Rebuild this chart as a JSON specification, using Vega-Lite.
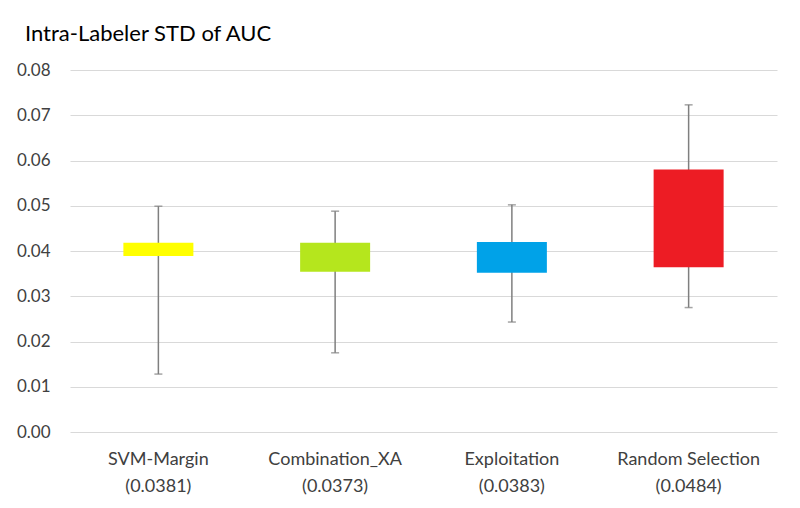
{
  "$schema": "https://vega.github.io/schema/vega-lite/v6.json",
  "width": 707,
  "height": 362,
  "autosize": "none",
  "padding": {"left": 70, "top": 70, "right": 23, "bottom": 76},
  "background": "white",
  "title": {
    "text": "Intra-Labeler STD of AUC",
    "anchor": "start",
    "frame": "group",
    "dx": -45,
    "offset": 15,
    "font": "Lato",
    "fontSize": 22,
    "fontWeight": "normal",
    "color": "#000000"
  },
  "config": {
    "view": {"stroke": null},
    "font": "Lato"
  },
  "data": {
    "values": [
      {"method": "SVM-Margin", "label": "SVM-Margin\n(0.0381)", "low": 0.0128, "q1": 0.0389, "q3": 0.0418, "high": 0.0499},
      {"method": "Combination_XA", "label": "Combination_XA\n(0.0373)", "low": 0.0175, "q1": 0.0354, "q3": 0.0418, "high": 0.0488},
      {"method": "Exploitation", "label": "Exploitation\n(0.0383)", "low": 0.0243, "q1": 0.0352, "q3": 0.0420, "high": 0.0502},
      {"method": "Random Selection", "label": "Random Selection\n(0.0484)", "low": 0.0275, "q1": 0.0364, "q3": 0.0580, "high": 0.0723}
    ]
  },
  "encoding": {
    "x": {
      "field": "label",
      "type": "nominal",
      "sort": null,
      "title": null,
      "axis": {
        "labelAngle": 0,
        "labelExpr": "split(datum.label, '\\n')",
        "labelLineHeight": 27,
        "labelFontSize": 18,
        "labelColor": "#404040",
        "labelPadding": 18,
        "ticks": false,
        "domain": false,
        "grid": false
      }
    }
  },
  "layer": [
    {
      "mark": {"type": "rule", "color": "#7f7f7f", "strokeWidth": 1.5},
      "encoding": {
        "y": {
          "field": "low",
          "type": "quantitative",
          "scale": {"domain": [0, 0.08], "nice": false},
          "title": null,
          "axis": {
            "values": [0, 0.01, 0.02, 0.03, 0.04, 0.05, 0.06, 0.07, 0.08],
            "format": ".2f",
            "labelFontSize": 17,
            "labelColor": "#404040",
            "labelPadding": 20,
            "ticks": false,
            "domain": false,
            "gridColor": "#d9d9d9",
            "gridWidth": 1
          }
        },
        "y2": {"field": "high"}
      }
    },
    {
      "mark": {"type": "tick", "color": "#7f7f7f", "thickness": 1.5, "size": 8},
      "encoding": {"y": {"field": "low", "type": "quantitative"}}
    },
    {
      "mark": {"type": "tick", "color": "#7f7f7f", "thickness": 1.5, "size": 8},
      "encoding": {"y": {"field": "high", "type": "quantitative"}}
    },
    {
      "mark": {"type": "bar", "size": 70},
      "encoding": {
        "y": {"field": "q1", "type": "quantitative"},
        "y2": {"field": "q3"},
        "color": {
          "field": "method",
          "type": "nominal",
          "legend": null,
          "scale": {
            "domain": ["SVM-Margin", "Combination_XA", "Exploitation", "Random Selection"],
            "range": ["#ffff00", "#b5e61d", "#00a2e8", "#ed1c24"]
          }
        }
      }
    }
  ]
}
